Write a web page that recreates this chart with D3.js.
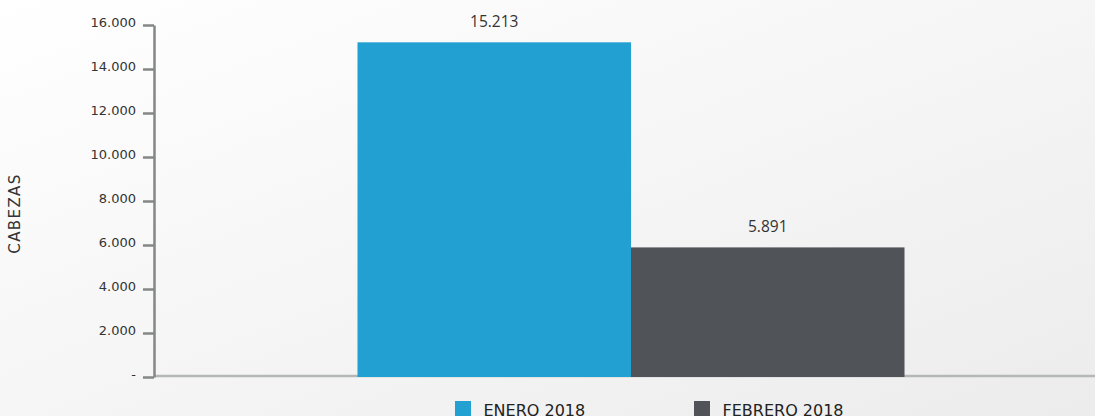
<!DOCTYPE html>
<html>
<head>
<meta charset="utf-8">
<script src="https://cdn.jsdelivr.net/npm/d3@7"></script>
<style>
  html, body { margin: 0; padding: 0; }
  body { width: 1095px; height: 416px; overflow: hidden; }
  svg { display: block; font-family: 'DejaVu Sans', sans-serif; }
  .yaxis .domain { stroke: #858787; stroke-width: 2.5; }
  .yaxis .tick line { stroke: #858787; stroke-width: 2.5; }
  .yaxis .tick text { fill: #333; font-size: 13px; font-family: 'DejaVu Sans', sans-serif; }
</style>
</head>
<body>
<div id="chart"></div>
<script>
const width = 1095
const height = 416

const categories = ['Ene-Feb 2018']
const series = ['ENERO 2018', 'FEBRERO 2018']
const values = [15213, 5891]
const colors = ['#22a0d1', '#505459']
const yTicks = [0, 2000, 4000, 6000, 8000, 10000, 12000, 14000, 16000]
const yTickLabels = ['-', '2.000', '4.000', '6.000', '8.000', '10.000', '12.000', '14.000', '16.000']

const fmt = d3.formatLocale({ decimal: ',', thousands: '.', grouping: [3], currency: ['', ''] }).format(',d')

const svg = d3
  .select('#chart')
  .append('svg')
  .attr('width', width)
  .attr('height', height)

// Background gradient
const grad = svg
  .append('defs')
  .append('linearGradient')
  .attr('id', 'bg')
  .attr('x1', '0%')
  .attr('y1', '0%')
  .attr('x2', '100%')
  .attr('y2', '100%')
grad.append('stop').attr('offset', '0%').attr('stop-color', '#ffffff')
grad.append('stop').attr('offset', '100%').attr('stop-color', '#ececec')
svg.append('rect').attr('width', width).attr('height', height).attr('fill', 'url(#bg)')

const margin = { left: 154, top: 25, bottom: 377 }

const yScale = d3.scaleLinear().domain([0, 16000]).range([margin.bottom, margin.top])
const x0 = d3.scaleBand().domain(categories).range([margin.left, 1108]).paddingOuter(0.372)
const x1 = d3.scaleBand().domain(series).range([0, x0.bandwidth()])

// Baseline across the whole plot
svg
  .append('line')
  .attr('x1', margin.left)
  .attr('x2', width)
  .attr('y1', yScale(0) - 1)
  .attr('y2', yScale(0) - 1)
  .attr('stroke', '#b5b7b7')
  .attr('stroke-width', 2.5)

// Bars
const group = svg
  .selectAll('.group')
  .data(categories)
  .join('g')
  .attr('class', 'group')
  .attr('transform', d => `translate(${x0(d)},0)`)

group
  .selectAll('rect')
  .data(series.map((s, i) => ({ s, v: values[i], c: colors[i] })))
  .join('rect')
  .attr('x', d => x1(d.s))
  .attr('width', x1.bandwidth())
  .attr('y', d => yScale(d.v))
  .attr('height', d => yScale(0) - yScale(d.v))
  .attr('fill', d => d.c)

group
  .selectAll('.value')
  .data(series.map((s, i) => ({ s, v: values[i] })))
  .join('text')
  .attr('class', 'value')
  .attr('x', d => x1(d.s) + x1.bandwidth() / 2)
  .attr('y', d => yScale(d.v) - 15.5)
  .attr('text-anchor', 'middle')
  .attr('fill', '#333')
  .style('font-family', "'Open Sans', sans-serif")
  .style('font-size', '15.5px')
  .text(d => fmt(d.v))

// Y axis
const yAxis = d3
  .axisLeft(yScale)
  .tickValues(yTicks)
  .tickFormat((d, i) => yTickLabels[i])
  .tickSize(11)
  .tickSizeOuter(0)
  .tickPadding(7)

svg
  .append('g')
  .attr('class', 'yaxis')
  .attr('transform', `translate(${margin.left},0)`)
  .call(yAxis)
  .call(g => g.selectAll('.tick text').attr('dy', '0.12em'))

svg
  .append('text')
  .attr('transform', `translate(20,213.5) rotate(-90)`)
  .attr('text-anchor', 'middle')
  .attr('fill', '#333')
  .style('font-size', '15px')
  .style('letter-spacing', '1.4px')
  .text('CABEZAS')

// Legend
const legendX = [455, 694]
const legend = svg
  .selectAll('.legend')
  .data(series)
  .join('g')
  .attr('class', 'legend')
  .attr('transform', (d, i) => `translate(${legendX[i]},401)`)
legend.append('rect').attr('width', 16).attr('height', 16).attr('fill', (d, i) => colors[i])
legend
  .append('text')
  .attr('x', 28.5)
  .attr('y', 14.5)
  .attr('fill', '#222')
  .style('font-size', '16px')
  .text(d => d)
</script>
</body>
</html>
